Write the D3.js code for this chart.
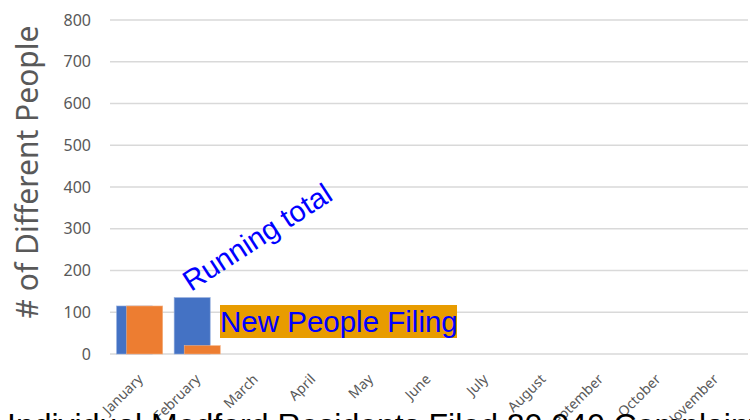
<!DOCTYPE html>
<html>
<head>
<meta charset="utf-8">
<style>
    body { margin: 0; background: #fff; }
    svg { display: block; }
</style>
<script src="https://cdn.jsdelivr.net/npm/d3@7"></script>
</head>
<body>
<svg id="chart" width="750" height="420"></svg>
<script>
// months shown on the x axis
var months = ["January", "February", "March", "April", "May", "June",
              "July", "August", "September", "October", "November"];
// only the first two months have values
var runningTotal = [115, 135];
var newPeople = [115, 20];
var yTicks = [0, 100, 200, 300, 400, 500, 600, 700, 800];

var svg = d3.select("#chart");
var gray = "#595959";

var x = d3.scaleBand().domain(months).range([110, 743]);
var y = d3.scaleLinear().domain([0, 800]).range([354, 20]);

var bw = x.bandwidth();

// gridlines
svg.append("g")
  .selectAll("line")
  .data(yTicks)
  .join("line")
    .attr("x1", 110)
    .attr("x2", 748)
    .attr("y1", function(d) { return y(d); })
    .attr("y2", function(d) { return y(d); })
    .attr("stroke", "#d9d9d9")
    .attr("stroke-width", 1.5);

// y tick labels
svg.append("g")
  .selectAll("text")
  .data(yTicks)
  .join("text")
    .attr("x", 91)
    .attr("y", function(d) { return y(d); })
    .attr("dy", "0.35em")
    .attr("text-anchor", "end")
    .attr("font-family", "Noto Sans, sans-serif")
    .attr("font-size", "16px")
    .attr("fill", gray)
    .text(function(d) { return d; });

// y axis title
svg.append("text")
  .attr("transform", "translate(38,172) rotate(-90)")
  .attr("text-anchor", "middle")
  .attr("font-family", "Noto Sans, sans-serif")
  .attr("font-size", "30px")
  .attr("fill", gray)
  .text("# of Different People");

// bars: blue running total behind, orange new people shifted right
var barW = bw * 0.626;
svg.append("g")
  .selectAll("rect")
  .data(runningTotal)
  .join("rect")
    .attr("x", function(d, i) { return x(months[i]) + bw * 0.115; })
    .attr("y", function(d) { return y(d); })
    .attr("width", barW)
    .attr("height", function(d) { return y(0) - y(d); })
    .attr("fill", "#4472c4")
    .attr("stroke", "#8faadc")
    .attr("stroke-width", 0.6);

svg.append("g")
  .selectAll("rect")
  .data(newPeople)
  .join("rect")
    .attr("x", function(d, i) { return x(months[i]) + bw * 0.29; })
    .attr("y", function(d) { return y(d); })
    .attr("width", barW)
    .attr("height", function(d) { return y(0) - y(d); })
    .attr("fill", "#ed7d31")
    .attr("stroke", "#f4b183")
    .attr("stroke-width", 0.6);

// month labels
svg.append("g")
  .selectAll("text")
  .data(months)
  .join("text")
    .attr("transform", function(d) {
        return "translate(" + (x(d) + bw / 2 + 5) + ",380) rotate(-45)";
    })
    .attr("text-anchor", "end")
    .attr("font-family", "Noto Sans, sans-serif")
    .attr("font-size", "14px")
    .attr("fill", gray)
    .text(function(d) { return d; });

// annotations
svg.append("text")
  .attr("transform", "translate(191,292) rotate(-33)")
  .attr("font-family", "Liberation Sans, Arial, sans-serif")
  .attr("font-size", "29px")
  .attr("fill", "#0000ff")
  .text("Running total");

svg.append("rect")
  .attr("x", 220)
  .attr("y", 305)
  .attr("width", 237)
  .attr("height", 33)
  .attr("fill", "#e89c00");

svg.append("text")
  .attr("x", 220)
  .attr("y", 332)
  .attr("font-family", "Liberation Sans, Arial, sans-serif")
  .attr("font-size", "29.5px")
  .attr("fill", "#0000ff")
  .text("New People Filing");

// title, mostly cut off at the bottom
svg.append("text")
  .attr("x", 7)
  .attr("y", 436)
  .attr("font-family", "Liberation Sans, Arial, sans-serif")
  .attr("font-size", "32px")
  .attr("fill", "#000")
  .text("Individual Medford Residents Filed 20,040 Complaints");
</script>
</body>
</html>
